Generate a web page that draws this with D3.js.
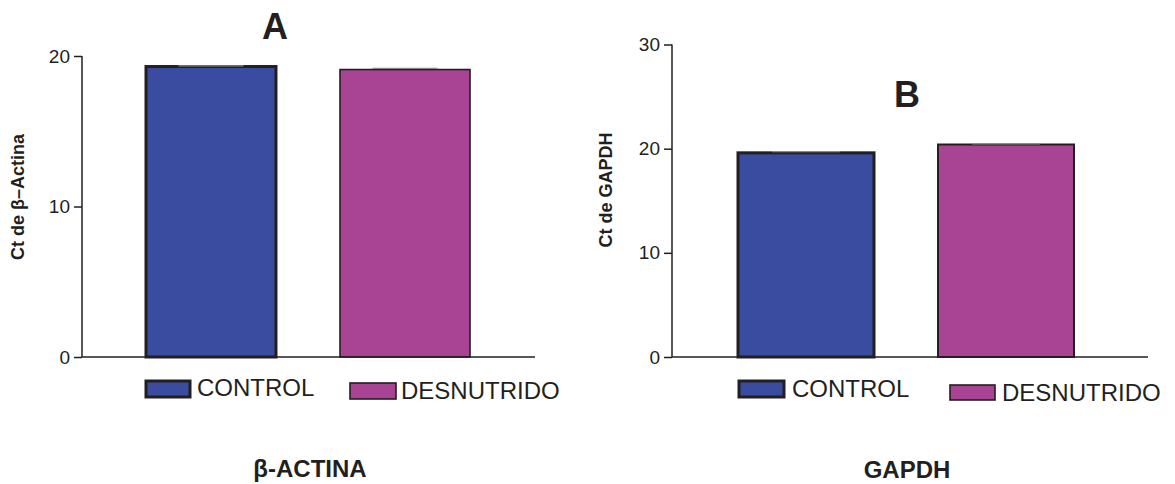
<!DOCTYPE html>
<html>
<head>
    <meta charset="utf-8" />
    <script src="https://d3js.org/d3.v7.min.js" charset="utf-8"></script>
    <title>Ct beta-actina / GAPDH</title>
    <style type="text/css">
        body { margin: 0; background: #fff; }
        text { font-family: "Liberation Sans", Arial, Helvetica, sans-serif; fill: #231f20; }
        .axis path, .axis line { stroke: #231f20; stroke-width: 1.5px; }
        .axis text { font-size: 19px; }
        .ylabel { font-size: 18px; font-weight: bold; }
        .panel { font-size: 36px; font-weight: bold; }
        .gene { font-size: 24px; font-weight: bold; }
        .legend text { font-size: 24px; }
    </style>
</head>
<body>
    <div id="chart"></div>

    <script type="text/javascript">
        // groups
        const categories = ["CONTROL", "DESNUTRIDO"];
        const colors = ["#3a4ca0", "#a84493"];

        // Ct values
        const actinaValues = [19.3, 19.1];
        const actinaErrors = [0.05, 0.08];
        const gapdhValues = [19.6, 20.4];
        const gapdhErrors = [0.12, 0.05];

        const actinaTicks = [0, 10, 20];
        const gapdhTicks = [0, 10, 20, 30];

        const width = 1175, height = 484;

        const svg = d3.select("#chart").append("svg")
            .attr("width", width).attr("height", height);

        const panels = [
            {
                letter: "A", gene: "\u03b2-ACTINA", ylabel: "Ct de \u03b2\u2013Actina",
                values: actinaValues, errors: actinaErrors, ticks: actinaTicks, max: 20,
                axisX: 82, axisEnd: 535, top: 56, bars: [146, 470], inner: 0.33,
                strokes: [3, 1.6], letterPos: [275, 39], genePos: [310, 477], ylabelPos: [24, 197],
                legend: [{ x: 146, y: 381, w: 44, h: 16, tx: 197, ty: 396 },
                         { x: 350, y: 383, w: 46, h: 16, tx: 401, ty: 399 }]
            },
            {
                letter: "B", gene: "GAPDH", ylabel: "Ct de GAPDH",
                values: gapdhValues, errors: gapdhErrors, ticks: gapdhTicks, max: 30,
                axisX: 672, axisEnd: 1148, top: 44.5, bars: [738, 1074], inner: 0.32,
                strokes: [3, 2], letterPos: [907, 107], genePos: [907, 478], ylabelPos: [612, 190],
                legend: [{ x: 739, y: 381, w: 45, h: 16, tx: 792, ty: 397 },
                         { x: 950, y: 385, w: 45, h: 15, tx: 1002, ty: 401 }]
            }
        ];

        const baseY = 357;

        panels.forEach(function (p) {
            var g = svg.append("g");

            var x = d3.scaleBand().domain(categories).range(p.bars).paddingInner(p.inner).paddingOuter(0);
            var y = d3.scaleLinear().domain([0, p.max]).range([baseY, p.top]);

            // bars
            g.selectAll("rect.bar")
                .data(categories).enter().append("rect")
                .attr("class", "bar")
                .attr("x", d => x(d))
                .attr("width", x.bandwidth())
                .attr("y", (d, i) => y(p.values[i]))
                .attr("height", (d, i) => baseY - y(p.values[i]))
                .attr("fill", (d, i) => colors[i])
                .attr("stroke", "#231f20")
                .attr("stroke-width", (d, i) => p.strokes[i]);

            // tiny error caps
            g.selectAll("line.err")
                .data(categories).enter().append("line")
                .attr("class", "err")
                .attr("x1", d => x(d) + x.bandwidth() * 0.25)
                .attr("x2", d => x(d) + x.bandwidth() * 0.75)
                .attr("y1", (d, i) => y(p.values[i] + p.errors[i]))
                .attr("y2", (d, i) => y(p.values[i] + p.errors[i]))
                .attr("stroke", "#8a8a8a")
                .attr("stroke-width", 1.2);

            // y axis
            var yAxis = g.append("g").attr("class", "axis")
                .attr("transform", "translate(" + p.axisX + ",0)")
                .call(d3.axisLeft(y).tickValues(p.ticks).tickSize(8).tickPadding(4).tickSizeOuter(0));
            yAxis.select(".domain").attr("d", "M0," + p.top + "V" + baseY);

            // baseline
            g.append("line")
                .attr("x1", p.axisX).attr("x2", p.axisEnd)
                .attr("y1", baseY).attr("y2", baseY)
                .attr("stroke", "#231f20").attr("stroke-width", 1.5);

            g.append("text")
                .attr("class", "ylabel")
                .attr("text-anchor", "middle")
                .attr("transform", "translate(" + p.ylabelPos[0] + "," + p.ylabelPos[1] + ") rotate(-90)")
                .text(p.ylabel);

            g.append("text").attr("class", "panel")
                .attr("x", p.letterPos[0]).attr("y", p.letterPos[1])
                .attr("text-anchor", "middle").text(p.letter);

            g.append("text").attr("class", "gene")
                .attr("x", p.genePos[0]).attr("y", p.genePos[1])
                .attr("text-anchor", "middle").text(p.gene);

            // legend
            var leg = g.append("g").attr("class", "legend");
            leg.selectAll("rect")
                .data(p.legend).enter().append("rect")
                .attr("x", d => d.x).attr("y", d => d.y)
                .attr("width", d => d.w).attr("height", d => d.h)
                .attr("fill", (d, i) => colors[i])
                .attr("stroke", "#231f20")
                .attr("stroke-width", (d, i) => i == 0 ? 3 : 1.6);
            leg.selectAll("text")
                .data(p.legend).enter().append("text")
                .attr("x", d => d.tx).attr("y", d => d.ty)
                .text((d, i) => categories[i]);
        });
    </script>
</body>
</html>
